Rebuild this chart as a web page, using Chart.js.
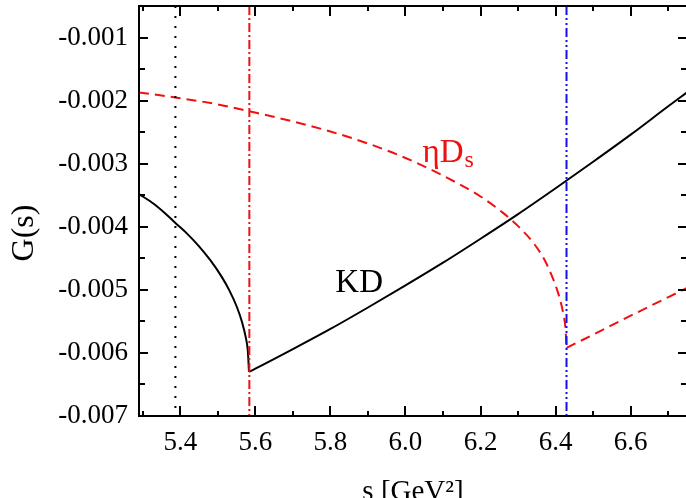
<!DOCTYPE html>
<html><head><meta charset="utf-8">
<script src="https://cdn.jsdelivr.net/npm/chart.js@4.4.1/dist/chart.umd.min.js"></script>
<style>
html,body{margin:0;padding:0;overflow:hidden;background:#fff;width:686px;height:498px}
#wrap{position:absolute;left:0;top:0;width:700px;height:530px}
</style>
</head><body><div id="wrap"><canvas id="c" width="700" height="530"></canvas></div>
<script>
// KD channel
const kdS = [5.29, 5.33, 5.36, 5.387, 5.42, 5.45, 5.48, 5.51, 5.53, 5.55, 5.565, 5.575, 5.58, 5.583,
             5.6, 5.7, 5.8, 5.9, 6.0, 6.1, 6.2, 6.3, 6.4, 6.5, 6.6, 6.7, 6.75];
const kdG = [-0.00348, -0.00364, -0.00379, -0.00394, -0.00412, -0.00431, -0.00453, -0.00479, -0.00500, -0.00526, -0.00552, -0.00577, -0.00597, -0.00630,
             -0.00625, -0.00594, -0.00562, -0.00528, -0.00493, -0.00457, -0.00419, -0.00380, -0.00339, -0.00297, -0.00254, -0.00209, -0.00187];
const kdThreshold = 5.583;
// eta Ds channel
const etaS = [5.29, 5.387, 5.5, 5.584, 5.7, 5.8, 5.9, 6.0, 6.1, 6.2, 6.26, 6.3, 6.34, 6.37, 6.39, 6.405, 6.415, 6.422, 6.426, 6.429,
              6.5, 6.6, 6.75];
const etaG = [-0.00187, -0.00195, -0.00206, -0.00217, -0.00233, -0.00249, -0.00268, -0.00291, -0.00319, -0.00352, -0.00378, -0.00399, -0.00425, -0.00452, -0.00478, -0.00502, -0.00523, -0.00543, -0.00559, -0.00592,
              -0.00571, -0.00541, -0.00497];
const etaThreshold = 6.429;
// vertical threshold lines
const thresholds = [5.387, 5.584, 6.429];
const thresholdColors = ['#000000', '#ee1111', '#1111ee'];
const thresholdDash = [[2, 8], [9, 3, 2, 3], [9, 3, 2, 3, 2, 3]];
// axes
const xMin = 5.29, xMax = 6.75, yMin = -0.007, yMax = -0.0005;
const xTicks = [5.4, 5.6, 5.8, 6.0, 6.2, 6.4, 6.6];
const xMinor = [5.3, 5.5, 5.7, 5.9, 6.1, 6.3, 6.5, 6.7];
const yTicks = [-0.007, -0.006, -0.005, -0.004, -0.003, -0.002, -0.001];
const yMinor = [-0.0065, -0.0055, -0.0045, -0.0035, -0.0025, -0.0015];

const FONT = '"Liberation Serif", "Times New Roman", serif';

const toPts = (xs, ys) => xs.map((v, i) => ({x: v, y: ys[i]}));
const below = (xs, ys, t) => toPts(xs, ys).filter(p => p.x <= t);
const above = (xs, ys, t) => toPts(xs, ys).filter(p => p.x >= t);

const datasets = [];
thresholds.forEach((t, i) => {
  datasets.push({
    data: [{x: t, y: yMax}, {x: t, y: yMin}],
    borderColor: thresholdColors[i], borderWidth: 2, borderDash: thresholdDash[i],
    pointRadius: 0, tension: 0, fill: false
  });
});
const kdStyle = {borderColor: '#000', borderWidth: 2, pointRadius: 0, cubicInterpolationMode: 'monotone', fill: false};
const etaStyle = {borderColor: '#ee1111', borderWidth: 2, borderDash: [10, 6], pointRadius: 0, cubicInterpolationMode: 'monotone', fill: false};
datasets.push(Object.assign({data: below(kdS, kdG, kdThreshold)}, kdStyle));
datasets.push(Object.assign({data: above(kdS, kdG, kdThreshold)}, kdStyle));
datasets.push(Object.assign({data: below(etaS, etaG, etaThreshold)}, etaStyle));
datasets.push(Object.assign({data: above(etaS, etaG, etaThreshold)}, etaStyle));

const frame = {
  id: 'frame',
  afterDraw(chart) {
    const {ctx, chartArea: a, scales: {x, y}} = chart;
    ctx.save();
    ctx.strokeStyle = '#000';
    ctx.lineWidth = 2;
    ctx.strokeRect(a.left, a.top, a.right - a.left, a.bottom - a.top);
    ctx.beginPath();
    const xt = (v, len) => { const p = Math.round(x.getPixelForValue(v)); ctx.moveTo(p, a.bottom); ctx.lineTo(p, a.bottom - len); ctx.moveTo(p, a.top); ctx.lineTo(p, a.top + len); };
    const yt = (v, len) => { const p = Math.round(y.getPixelForValue(v)); ctx.moveTo(a.left, p); ctx.lineTo(a.left + len, p); ctx.moveTo(a.right, p); ctx.lineTo(a.right - len, p); };
    xTicks.forEach(v => xt(v, 10)); xMinor.forEach(v => xt(v, 5));
    yTicks.forEach(v => yt(v, 9)); yMinor.forEach(v => yt(v, 6));
    ctx.stroke();
    // curve labels
    ctx.fillStyle = '#000';
    ctx.textBaseline = 'alphabetic';
    ctx.textAlign = 'left';
    ctx.font = '33px ' + FONT;
    ctx.fillText('KD', x.getPixelForValue(5.813), y.getPixelForValue(-0.00503));
    ctx.fillStyle = '#ee1111';
    const ex = x.getPixelForValue(6.045), ey = y.getPixelForValue(-0.002973);
    ctx.fillText('\u03B7D', ex, ey);
    const w = ctx.measureText('\u03B7D').width;
    ctx.font = '24px ' + FONT;
    ctx.fillText('s', ex + w + 1, ey + 5);
    // y title
    ctx.fillStyle = '#000';
    ctx.translate(25, 233);
    ctx.rotate(-Math.PI / 2);
    ctx.textAlign = 'center';
    ctx.textBaseline = 'middle';
    ctx.font = '32px ' + FONT;
    ctx.fillText('G(s)', 0, 0);
    ctx.restore();
  }
};

new Chart(document.getElementById('c'), {
  type: 'line',
  data: {datasets},
  options: {
    responsive: false,
    animation: false,
    devicePixelRatio: 1,
    layout: {padding: {top: 6, right: 13, left: 0, bottom: 0}},
    plugins: {legend: {display: false}, tooltip: {enabled: false}},
    scales: {
      x: {
        type: 'linear', min: xMin, max: xMax,
        afterBuildTicks: s => { s.ticks = xTicks.map(v => ({value: v})); },
        afterFit: s => { s.height = 114; s.paddingLeft = 0; s.paddingRight = 0; },
        grid: {display: false, drawTicks: false},
        border: {display: false},
        ticks: {color: '#000', padding: 11, font: {family: FONT, size: 27}, maxRotation: 0, autoSkip: false,
                callback: v => Number(v).toFixed(1)},
        title: {display: true, text: 's [GeV\u00B2]', color: '#000', font: {family: FONT, size: 29}, padding: {top: 0, bottom: 20}}
      },
      y: {
        type: 'linear', min: yMin, max: yMax,
        afterBuildTicks: s => { s.ticks = yTicks.map(v => ({value: v})); },
        afterFit: s => { s.width = 139; s.paddingTop = 0; s.paddingBottom = 0; },
        grid: {display: false, drawTicks: false},
        border: {display: false},
        ticks: {color: '#000', padding: 11, font: {family: FONT, size: 27}, autoSkip: false,
                callback: v => Number(v).toFixed(3)}
      }
    }
  },
  plugins: [frame]
});
</script>
</body></html>
